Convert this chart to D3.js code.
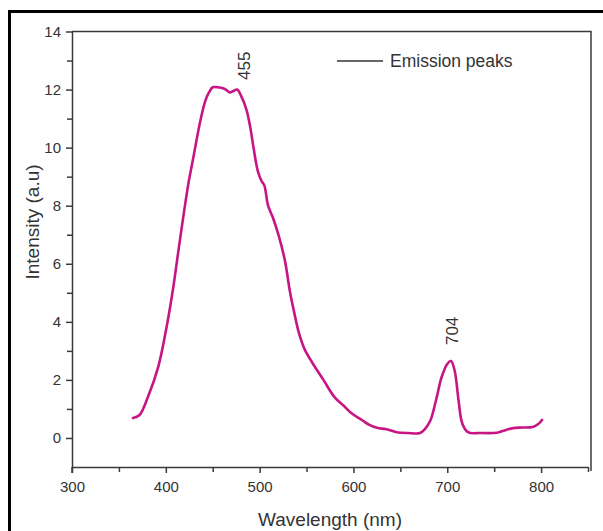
<!DOCTYPE html>
<html>
<head>
    <meta charset="utf-8">
    <title>Emission spectrum</title>
    <script src="https://d3js.org/d3.v7.min.js"></script>
    <style>
        body { margin: 0; background: #fff; }
        text { font-family: "Liberation Sans", Arial, sans-serif; fill: #333; }
    </style>
</head>
<body>
    <svg width="603" height="531"></svg>

    <script>
        // wavelength (nm) and intensity (a.u)
        var wavelength = [365, 372, 381, 392, 401, 408, 413, 419, 424, 429, 433, 437, 442, 446, 450, 455,
            460, 464, 468, 472, 476, 480, 486, 490, 493, 498, 502, 505, 509, 514, 520, 527, 532, 537, 542,
            548, 556, 568, 580, 590, 598, 609, 617, 625, 635, 646, 658, 671, 676, 682, 688, 694, 700,
            704, 708, 712, 716, 722, 735, 753, 760, 770, 780, 791, 797, 801];
        var intensity = [0.69, 0.79, 1.42, 2.46, 3.85, 5.2, 6.35, 7.7, 8.75, 9.6, 10.3, 10.95, 11.6, 11.9, 12.08, 12.08,
            12.05, 12.0, 11.9, 11.95, 12.0, 11.8, 11.3, 10.7, 10.1, 9.2, 8.85, 8.7, 8.0, 7.6, 7.0, 6.1, 5.1, 4.3, 3.6,
            3.05, 2.6, 2.0, 1.4, 1.1, 0.85, 0.62, 0.45, 0.35, 0.3, 0.2, 0.17, 0.17, 0.3, 0.6, 1.3, 2.1, 2.55,
            2.65, 2.3, 1.3, 0.5, 0.2, 0.17, 0.18, 0.25, 0.34, 0.36, 0.38, 0.48, 0.62];

        var xTicks = [300, 400, 500, 600, 700, 800];
        var xMinor = [350, 450, 550, 650, 750, 850];
        var yTicks = [0, 2, 4, 6, 8, 10, 12, 14];
        var yMinor = [1, 3, 5, 7, 9, 11, 13];

        var peakLabels = ["455", "704"];
        var peakLabelAt = [483, 705.5];   // wavelength where each label stands
        var peakLabelBase = [12.33, 3.2]; // intensity at the label's lower end

        var legendText = "Emission peaks";

        var svg = d3.select("svg");
        var x = d3.scaleLinear().domain([300, 850]).range([72, 588]);
        var y = d3.scaleLinear().domain([-1, 14]).range([467, 31.5]);

        // outer black frame (runs off the right and bottom edges)
        svg.append("rect")
            .attr("x", 9.5).attr("y", 11.5)
            .attr("width", 700).attr("height", 600)
            .attr("fill", "none")
            .attr("stroke", "#000")
            .attr("stroke-width", 3);

        var axisColor = "#3a3a3a";

        // top and right border of the plot
        svg.append("path")
            .attr("d", "M" + x(300) + "," + y(14) + "H" + (x(850) + 3) + "V" + (y(-1) + 4))
            .attr("fill", "none")
            .attr("stroke", axisColor)
            .attr("stroke-width", 1.5);

        // bottom axis
        var gx = svg.append("g").attr("transform", "translate(0," + y(-1) + ")");
        gx.call(d3.axisBottom(x).tickValues(xTicks).tickSize(6).tickSizeOuter(0).tickPadding(8));
        gx.append("g").call(d3.axisBottom(x).tickValues(xMinor).tickSize(5).tickSizeOuter(0).tickFormat(""))
            .select(".domain").remove();

        // left axis
        var gy = svg.append("g").attr("transform", "translate(" + x(300) + ",0)");
        gy.call(d3.axisLeft(y).tickValues(yTicks).tickSize(6).tickSizeOuter(0).tickPadding(5));
        gy.append("g").call(d3.axisLeft(y).tickValues(yMinor).tickSize(5).tickSizeOuter(0).tickFormat(""))
            .select(".domain").remove();

        svg.selectAll(".domain, .tick line")
            .attr("stroke", axisColor)
            .attr("stroke-width", 1.5);
        svg.selectAll(".tick text")
            .attr("font-size", 15)
            .attr("font-family", "Liberation Sans, Arial, sans-serif")
            .attr("fill", "#333");

        // the 300 tick runs a little below the left axis line
        svg.append("line")
            .attr("x1", x(300)).attr("x2", x(300))
            .attr("y1", y(-1)).attr("y2", y(-1) + 6)
            .attr("stroke", axisColor).attr("stroke-width", 1.5);

        // axis titles
        svg.append("text")
            .attr("x", 330).attr("y", 526)
            .attr("text-anchor", "middle")
            .attr("font-size", 19)
            .text("Wavelength (nm)");
        svg.append("text")
            .attr("transform", "translate(39,222) rotate(-90)")
            .attr("text-anchor", "middle")
            .attr("font-size", 19)
            .text("Intensity (a.u)");

        // emission curve
        var points = wavelength.map(function (w, i) { return [w, intensity[i]]; });
        var line = d3.line()
            .x(function (d) { return x(d[0]); })
            .y(function (d) { return y(d[1]); })
            .curve(d3.curveCatmullRom.alpha(0.5));
        svg.append("path")
            .datum(points)
            .attr("d", line)
            .attr("fill", "none")
            .attr("stroke", "#c71585")
            .attr("stroke-width", 2.6)
            .attr("stroke-linejoin", "round")
            .attr("stroke-linecap", "round");

        // peak labels
        svg.selectAll(".peak")
            .data(peakLabels)
            .enter()
            .append("text")
            .attr("class", "peak")
            .attr("transform", function (d, i) {
                return "translate(" + (x(peakLabelAt[i]) + 6) + "," + y(peakLabelBase[i]) + ") rotate(-90)";
            })
            .attr("font-size", 17)
            .text(function (d) { return d; });

        // legend
        svg.append("line")
            .attr("x1", 337).attr("x2", 383)
            .attr("y1", 61).attr("y2", 61)
            .attr("stroke", "#333").attr("stroke-width", 1.3);
        svg.append("text")
            .attr("x", 390).attr("y", 67)
            .attr("font-size", 17.5)
            .text(legendText);
    </script>
</body>
</html>
